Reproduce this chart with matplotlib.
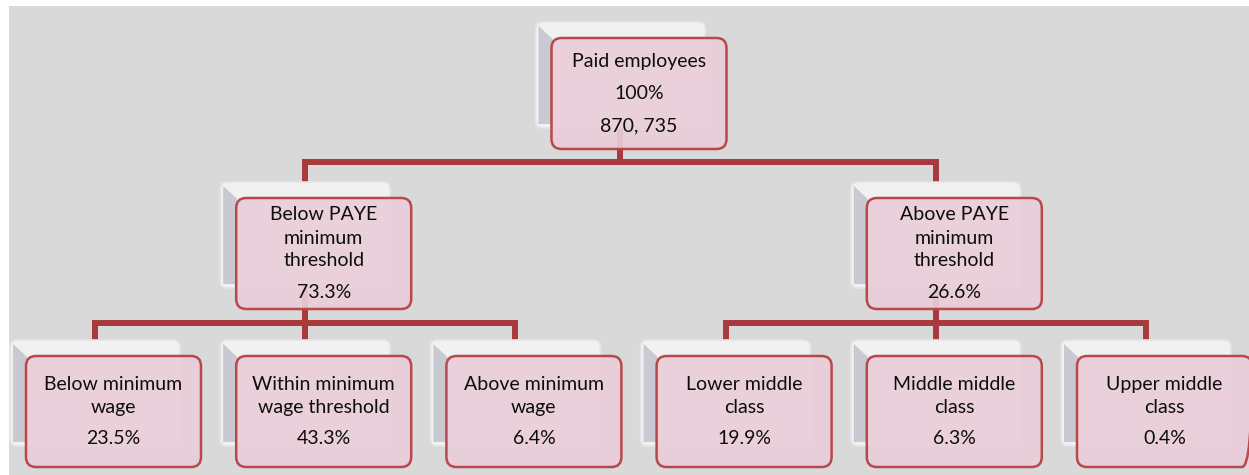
"""
Org-chart style breakdown of paid employees by PAYE threshold and wage band
"""

import matplotlib
matplotlib.use("Agg")
import matplotlib.pyplot as plt
from matplotlib.patches import FancyBboxPatch, Polygon, Rectangle

# data
root_lines = ["Paid employees", "100%", "870, 735"]
mid_labels = ["Below PAYE\nminimum\nthreshold", "Above PAYE\nminimum\nthreshold"]
mid_shares = ["73.3%", "26.6%"]
leaf_labels = ["Below minimum\nwage", "Within minimum\nwage threshold", "Above minimum\nwage",
               "Lower middle\nclass", "Middle middle\nclass", "Upper middle\nclass"]
leaf_shares = ["23.5%", "43.3%", "6.4%", "19.9%", "6.3%", "0.4%"]
leaf_parent = [0, 0, 0, 1, 1, 1]

# layout (pixels, y downwards)
W, H = 1249, 475
BG = "#d9d9d9"
LINE = "#a8393c"
PINK = "#e9ceda"
EDGE = "#b9484a"
SW, SH = 170, 106      # back (shadow) box
PW, PH = 175, 111      # front (pink) box
OFF = 16               # offset of pink box from back box
level_top = [22, 182, 340]
bus_y = [162, 323]
leaf_x0, leaf_dx = 95, 210.2
LINE_GAP = 23

fig = plt.figure(figsize=(W / 100, H / 100), dpi=100)
ax = fig.add_axes([0, 0, 1, 1])
ax.set_xlim(0, W)
ax.set_ylim(H, 0)
ax.axis("off")
ax.add_patch(Rectangle((9, 6), W - 9, H - 6, facecolor=BG, edgecolor="none", zorder=0))

leaf_cx = [leaf_x0 + leaf_dx * i for i in range(len(leaf_labels))]
mid_cx = []
for p in range(len(mid_labels)):
    kids = [leaf_cx[i] for i, q in enumerate(leaf_parent) if q == p]
    mid_cx.append(kids[len(kids) // 2])
root_cx = sum(mid_cx) / len(mid_cx)


def node(cx, top, paragraphs, para_gap=31):
    left = cx - SW / 2
    # back box with bevel
    ax.add_patch(FancyBboxPatch((left, top), SW, SH, boxstyle="round,pad=0,rounding_size=7",
                                facecolor="#f1f1f2", edgecolor="#e4e4e6", lw=1.2, zorder=2))
    ax.add_patch(Polygon([(left + 3, top + 4), (left + 17, top + 17), (left + 17, top + SH - 4),
                          (left + 3, top + SH - 4)], closed=True,
                         facecolor="#c9cad1", edgecolor="none", zorder=2))
    # front box
    pl, pt = left + OFF, top + OFF
    ax.add_patch(FancyBboxPatch((pl, pt), PW, PH, boxstyle="round,pad=0,rounding_size=10",
                                facecolor=PINK, edgecolor="none", alpha=0.92, zorder=3))
    ax.add_patch(FancyBboxPatch((pl, pt), PW, PH, boxstyle="round,pad=0,rounding_size=10",
                                facecolor="none", edgecolor=EDGE, lw=1.8, zorder=3))
    # text lines
    ys, y = [], 0
    for para in paragraphs:
        for j, _ in enumerate(para.split("\n")):
            if ys:
                y += LINE_GAP if j > 0 else para_gap
            ys.append(y)
    lines = [ln for para in paragraphs for ln in para.split("\n")]
    shift = pt + PH / 2 - (ys[0] + ys[-1]) / 2
    for ln, yy in zip(lines, ys):
        ax.text(pl + PW / 2, yy + shift, ln, ha="center", va="center",
                fontsize=14, family="Lato", color="#0d0d0d", zorder=4)


def connect(px, py, kids_x, by, ky):
    lw = 4.3
    ax.plot([px, px], [py, by], color=LINE, lw=lw, solid_capstyle="butt", zorder=1)
    ax.plot([min(kids_x), max(kids_x)], [by, by], color=LINE, lw=lw,
            solid_capstyle="projecting", zorder=1)
    for kx in kids_x:
        ax.plot([kx, kx], [by, ky + 10], color=LINE, lw=lw, solid_capstyle="butt", zorder=1)


connect(root_cx, level_top[0] + SH / 2, mid_cx, bus_y[0], level_top[1])
for p, cx in enumerate(mid_cx):
    kids = [leaf_cx[i] for i, q in enumerate(leaf_parent) if q == p]
    connect(cx, level_top[1] + SH / 2, kids, bus_y[1], level_top[2])

node(root_cx, level_top[0], root_lines, para_gap=32)
for cx, lab, sh in zip(mid_cx, mid_labels, mid_shares):
    node(cx, level_top[1], [lab, sh])
for cx, lab, sh in zip(leaf_cx, leaf_labels, leaf_shares):
    node(cx, level_top[2], [lab, sh])

fig.savefig("out.png", dpi=100, facecolor="white")
